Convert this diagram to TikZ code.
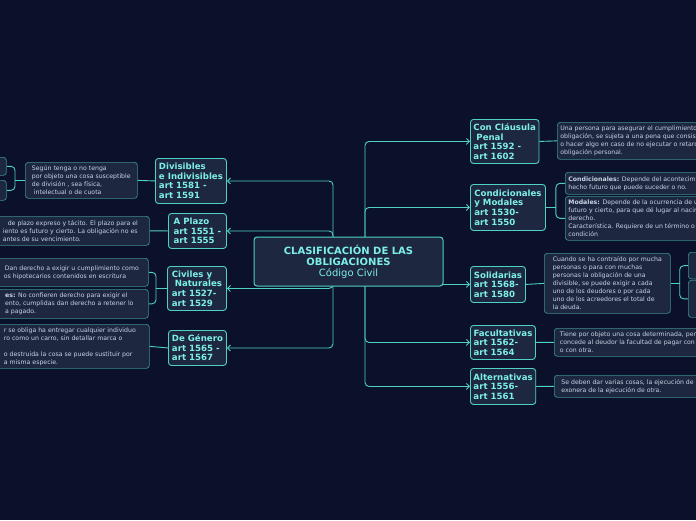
\documentclass[tikz,border=0pt]{standalone}
\usepackage{fontspec}
\setmainfont{DejaVu Sans}
\usetikzlibrary{arrows.meta,backgrounds}
\definecolor{bg}{HTML}{0B1128}
\definecolor{boxf}{HTML}{1E2740}
\definecolor{tl}{HTML}{4FD1C5}
\definecolor{tt}{HTML}{7DF0E6}
\definecolor{dt}{HTML}{C8D4E4}
\tikzset{
 box/.style={draw=tl, fill=boxf, rounded corners=3pt, line width=0.9pt, inner sep=3pt, anchor=north west, align=left},
 topic/.style={box, text=tt, font=\bfseries\fontsize{8.6}{9.6}\selectfont},
 det/.style={box, draw=tl!60!boxf, text=dt, font=\fontsize{6.2}{8}\selectfont, line width=0.7pt},
 conn/.style={draw=tl, line width=0.9pt, rounded corners=4pt},
 arr/.style={conn, -{Straight Barb[length=3pt,width=6pt]}},
}
\begin{document}
\begin{tikzpicture}[x=1pt,y=-1pt]
\useasboundingbox (0,0) rectangle (696,520);
\clip (0,0) rectangle (696,520);
% center
\node[box, line width=1pt, text=tt, minimum width=189pt, minimum height=49pt, align=center, anchor=center] (c) at (348.5,261.5)
 {\bfseries\fontsize{10}{12}\selectfont CLASIFICACIÓN DE LAS\\[-1pt]\bfseries\fontsize{10}{12}\selectfont OBLIGACIONES\\[-1pt]\fontsize{10}{12}\selectfont Código Civil};
% left topics
\node[topic, minimum width=71pt, minimum height=45pt] (div) at (155,158) {Divisibles\\e Indivisibles\\art 1581 -\\art 1591};
\node[topic, minimum width=58pt, minimum height=35pt] (pla) at (168,213) {A Plazo\\art 1551 -\\art  1555};
\node[topic, minimum width=59pt, minimum height=44pt] (civ) at (167,266) {Civiles  y\\\ Naturales\\art 1527-\\art 1529};
\node[topic, minimum width=58pt, minimum height=35pt] (gen) at (168,330) {De Género\\art 1565 -\\art 1567};
% right topics
\node[topic, minimum width=68pt, minimum height=44pt] (pen) at (470,119) {Con Cláusula\\\ Penal\\art 1592 -\\art 1602};
\node[topic, minimum width=75pt, minimum height=46pt] (cm) at (470,184) {Condicionales\\y Modales\\art 1530-\\art 1550};
\node[topic, minimum width=55pt, minimum height=36pt] (sol) at (470,266) {Solidarias\\art 1568-\\art 1580};
\node[topic, minimum width=65pt, minimum height=34pt] (fac) at (470,325) {Facultativas\\art 1562-\\art 1564};
\node[topic, minimum width=65pt, minimum height=36pt] (alt) at (470,368) {Alternativas\\art 1556-\\art 1561};
% left details
\node[det, minimum width=112pt, minimum height=36pt] (divd) at (25,162) {Según  tenga o no tenga\\por objeto una cosa susceptible\\de división , sea física,\\\ intelectual o de cuota};
\node[det, minimum width=20pt, minimum height=18pt] (divd1) at (-14,157) {};
\node[det, minimum width=20pt, minimum height=20pt] (divd2) at (-14,180) {};
\node[det, minimum width=158pt, minimum height=29pt] (plad) at (-9,216) {\hspace*{5pt}de plazo  expreso y tácito. El plazo para el\\iento es futuro y cierto. La obligación no es\\antes de su vencimiento.};
\node[det, minimum width=158pt, minimum height=28pt] (civd1) at (-10,258) {\hspace*{5pt}Dan derecho a exigir  u cumplimiento  como\\\hspace*{4pt}os hipotecarios  contenidos en escritura};
\node[det, minimum width=158pt, minimum height=29pt] (civd2) at (-10,289) {\textbf{es:} No confieren derecho  para exigir el\\ento, cumplidas dan derecho a retener lo\\a pagado.};
\node[det, minimum width=159pt, minimum height=44pt] (gend) at (-10,324) {r  se obliga ha entregar cualquier individuo\\ro como un carro, sin detallar marca o\\\\o destruida  la cosa se puede sustituir  por\\a misma especie.};
% right details
\node[det, minimum width=150pt, minimum height=37pt] (pend) at (557,122) {Una persona para asegurar  el cumplimiento de la\\obligación, se sujeta a una pena que consiste en dar\\o hacer algo en caso de no ejecutar o retardar la\\obligación personal.};
\node[det, minimum width=150pt, minimum height=22pt] (cmd1) at (565,172) {\textbf{Condicionales:} Depende del acontecimiento de un\\hecho futuro que puede suceder o no.};
\node[det, minimum width=150pt, minimum height=44pt] (cmd2) at (565,196) {\textbf{Modales:} Depende de la ocurrencia de un hecho\\futuro  y cierto, para que dé lugar al nacimiento del\\derecho.\\Característica. Requiere de un término o\\condición};
\node[det, minimum width=126pt, minimum height=60pt] (sold) at (544,253) {Cuando se ha contraído  por mucha\\personas o para con muchas\\personas la obligación de una\\divisible, se puede exigir  a cada\\uno de los deudores o por cada\\uno de los acreedores el total de\\la deuda.};
\node[det, minimum width=40pt, minimum height=25pt] (sold1) at (688,252) {A\\h\\d};
\node[det, minimum width=40pt, minimum height=37pt] (sold2) at (688,280) {P\\d\\d\\o};
\node[det, minimum width=160pt, minimum height=28pt] (facd) at (554,328) {Tiene por objeto una cosa determinada, pero se\\concede al deudor la facultad de pagar con ella\\o con otra.};
\node[det, minimum width=160pt, minimum height=22pt] (altd) at (554,375) {Se deben dar varias cosas, la ejecución de una\\exonera de la ejecución de otra.};
\begin{scope}[on background layer]
\fill[bg] (0,0) rectangle (696,520);
\coordinate (lt) at (333,262);
\coordinate (rt) at (365,262);
\foreach \n in {div,pla,civ,gen} \draw[arr] (lt) |- (\n.east);
\foreach \n in {pen,cm,sol,fac,alt} \draw[arr] (rt) |- (\n.west);
\draw[conn] (div.west) -- (divd.east);
\draw[conn] (divd.west) -- ++(-10,0) coordinate (b1);
\draw[conn] (divd1.east) -| (b1) |- (divd2.east);
\draw[conn] (pla.west) -- (plad.east);
\draw[conn] (civ.west) -- ++(-11,0) coordinate (b2);
\draw[conn] (civd1.east) -| (b2) |- (civd2.east);
\draw[conn] (gen.west) -- (gend.east);
\draw[conn] (pen.east) -- (pend.west);
\draw[conn] (cm.east) -- ++(10,0) coordinate (b3);
\draw[conn] (cmd1.west) -| (b3) |- (cmd2.west);
\draw[conn] (sol.east) -- (sold.west);
\draw[conn] (sold.east) -- ++(9,0) coordinate (b4);
\draw[conn] (sold1.west) -| (b4) |- (sold2.west);
\draw[conn] (fac.east) -- (facd.west);
\draw[conn] (alt.east) -- (altd.west);
\end{scope}
\end{tikzpicture}
\end{document}
